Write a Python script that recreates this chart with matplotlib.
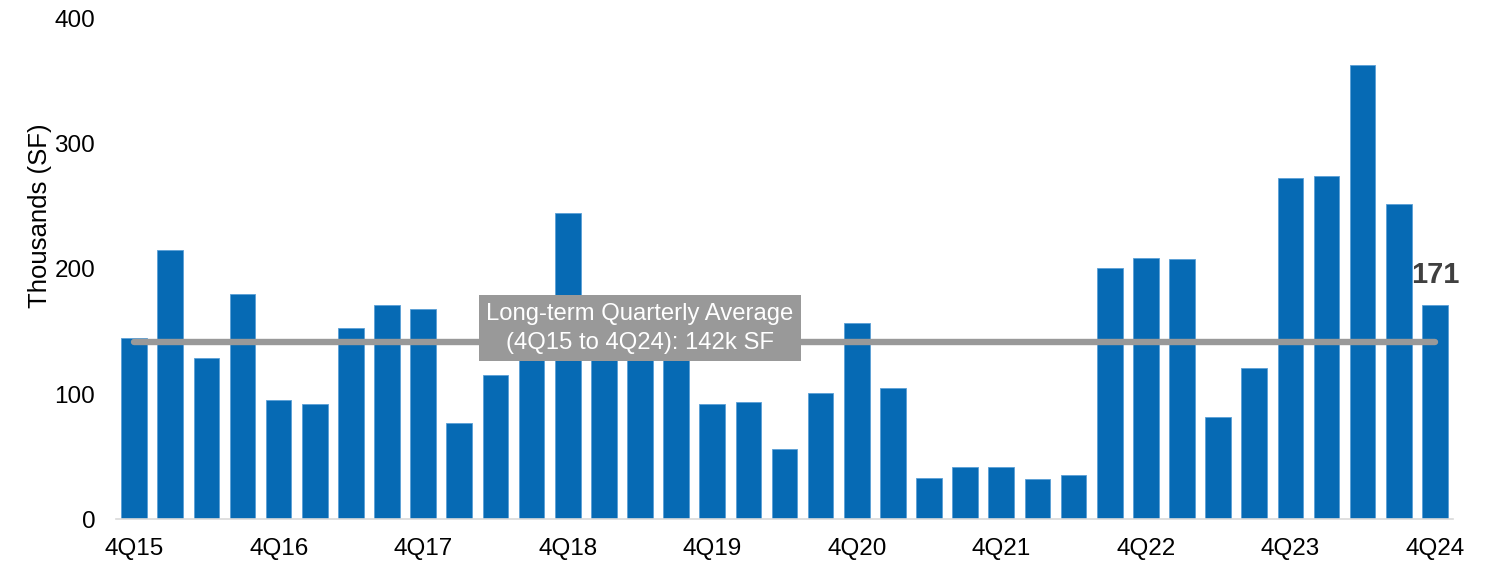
import matplotlib.pyplot as plt
import numpy as np

plt.rcParams['font.family'] = ['Liberation Sans', 'DejaVu Sans']

# Quarterly values, thousands of SF (4Q15 .. 4Q24)
quarters = [f"{q}Q{y:02d}" for y in range(15, 25) for q in range(1, 5)][3:]
valores = [145, 215, 129, 180, 95, 92, 153, 171, 168, 77, 115, 135,
           245, 132, 128, 128, 92, 94, 56, 101, 157, 105, 33, 42,
           42, 32, 35, 201, 209, 208, 82, 121, 273, 274, 363, 252, 171]
promedio = 142
etiqueta_promedio = "Long-term Quarterly Average\n(4Q15 to 4Q24): 142k SF"

azul = '#066AB4'
gris = '#999999'

fig = plt.figure(figsize=(14.99, 5.65), dpi=100)
ax = fig.add_axes([0.0774, 0.0814, 0.8919, 0.8850])

x = np.arange(len(valores))
ax.bar(x, valores, width=0.71, color=azul, edgecolor='#5a9fd6', linewidth=0.6, zorder=2)

# Long-term average line
ax.plot([x[0], x[-1]], [promedio, promedio], color=gris, linewidth=4.6,
        solid_capstyle='round', zorder=3)
ax.text(14, 152.5, etiqueta_promedio, ha='center', va='center', fontsize=17.2,
        color='white', linespacing=1.45, zorder=4,
        bbox=dict(boxstyle='square,pad=0.3', fc=gris, ec='none'))

# Latest quarter value
ax.text(x[-1], valores[-1] + 24, f"{valores[-1]}", ha='center', va='center',
        fontsize=21, fontweight='bold', color='#404040', zorder=4)

ax.set_xlim(-0.5, len(valores) - 0.5)
ax.set_ylim(0, 400)
ax.set_yticks([0, 100, 200, 300, 400])
ax.set_xticks(x[::4])
ax.set_xticklabels(quarters[::4])
ax.tick_params(axis='both', length=0, labelsize=17.5, colors='black')
ax.tick_params(axis='y', pad=15)
ax.tick_params(axis='x', pad=14)

for lado in ['top', 'right', 'left']:
    ax.spines[lado].set_visible(False)
ax.spines['bottom'].set_color('#d9d9d9')
ax.spines['bottom'].set_linewidth(1.2)

ax.set_ylabel("Thousands (SF)", fontsize=18.5)
ax.yaxis.set_label_coords(-0.048, 0.606)

fig.savefig('out.png', dpi=100)
